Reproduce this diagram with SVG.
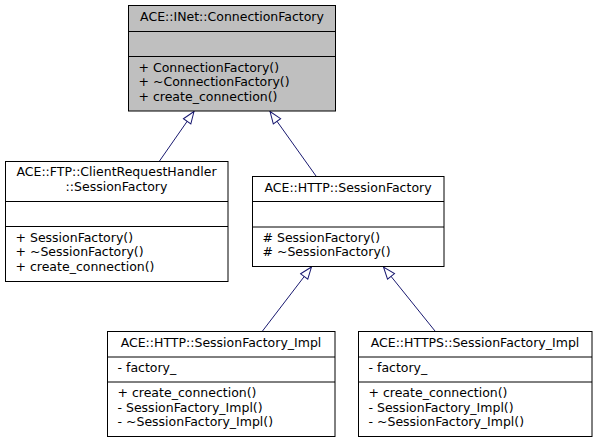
<svg xmlns="http://www.w3.org/2000/svg" width="599" height="443" viewBox="0 0 599 443">
<style>
.box{fill:#ffffff;stroke:#000000;stroke-width:1}
.base{fill:#bfbfbf}
.sep{stroke:#000000;stroke-width:1}
text{font-family:"DejaVu Sans","Liberation Sans",sans-serif;font-size:12.5px;fill:#000000}
.c{text-anchor:middle}
.edge{stroke:#191970;stroke-width:1;fill:none;marker-end:url(#tri)}
</style>
<defs>
<marker id="tri" markerUnits="userSpaceOnUse" viewBox="-1 -6 14 12" markerWidth="14" markerHeight="12" refX="12" refY="0" orient="auto">
<path d="M0,-4.5 L12,0 L0,4.5 Z" fill="#ffffff" stroke="#191970" stroke-width="1"/>
</marker>
</defs>
<rect x="0" y="0" width="599" height="443" fill="#ffffff"/>
<g id="connectors">
<line class="edge" x1="159.5" y1="161" x2="194" y2="111.5"/>
<line class="edge" x1="316" y1="176" x2="270" y2="111.5"/>
<line class="edge" x1="262.5" y1="331" x2="311.5" y2="267"/>
<line class="edge" x1="435" y1="331" x2="383.5" y2="267"/>
</g>
<g id="node-inet-connectionfactory">
<rect class="box base" x="128.5" y="5.5" width="207" height="105.5"/>
<line class="sep" x1="128.5" y1="31.5" x2="335.5" y2="31.5"/>
<line class="sep" x1="128.5" y1="56.5" x2="335.5" y2="56.5"/>
<text class="c" x="232" y="21">ACE::INet::ConnectionFactory</text>
<text x="138.5" y="71.5">+ ConnectionFactory()</text>
<text x="138.5" y="86">+ ~ConnectionFactory()</text>
<text x="138.5" y="100.5">+ create_connection()</text>
</g>
<g id="node-ftp-sessionfactory">
<rect class="box" x="5.5" y="161.5" width="222.5" height="120"/>
<line class="sep" x1="5.5" y1="201.5" x2="228" y2="201.5"/>
<line class="sep" x1="5.5" y1="226.5" x2="228" y2="226.5"/>
<text class="c" x="116.5" y="176">ACE::FTP::ClientRequestHandler</text>
<text class="c" x="116.5" y="190.5">::SessionFactory</text>
<text x="15.5" y="241.5">+ SessionFactory()</text>
<text x="15.5" y="256">+ ~SessionFactory()</text>
<text x="15.5" y="270.5">+ create_connection()</text>
</g>
<g id="node-http-sessionfactory">
<rect class="box" x="252.5" y="176.5" width="191.5" height="90"/>
<line class="sep" x1="252.5" y1="201.5" x2="444" y2="201.5"/>
<line class="sep" x1="252.5" y1="227" x2="444" y2="227"/>
<text class="c" x="348" y="191.5">ACE::HTTP::SessionFactory</text>
<text x="262.5" y="241.5"># SessionFactory()</text>
<text x="262.5" y="256"># ~SessionFactory()</text>
</g>
<g id="node-http-sessionfactory-impl">
<rect class="box" x="107.5" y="331.5" width="227.5" height="105"/>
<line class="sep" x1="107.5" y1="357" x2="335" y2="357"/>
<line class="sep" x1="107.5" y1="382" x2="335" y2="382"/>
<text class="c" x="221" y="346.5">ACE::HTTP::SessionFactory_Impl</text>
<text x="117.5" y="372">- factory_</text>
<text x="117.5" y="397">+ create_connection()</text>
<text x="117.5" y="411.5">- SessionFactory_Impl()</text>
<text x="117.5" y="426">- ~SessionFactory_Impl()</text>
</g>
<g id="node-https-sessionfactory-impl">
<rect class="box" x="358.5" y="331.5" width="233.5" height="105"/>
<line class="sep" x1="358.5" y1="357" x2="592" y2="357"/>
<line class="sep" x1="358.5" y1="382" x2="592" y2="382"/>
<text class="c" x="475" y="346.5">ACE::HTTPS::SessionFactory_Impl</text>
<text x="368.5" y="372">- factory_</text>
<text x="368.5" y="397">+ create_connection()</text>
<text x="368.5" y="411.5">- SessionFactory_Impl()</text>
<text x="368.5" y="426">- ~SessionFactory_Impl()</text>
</g>
</svg>
